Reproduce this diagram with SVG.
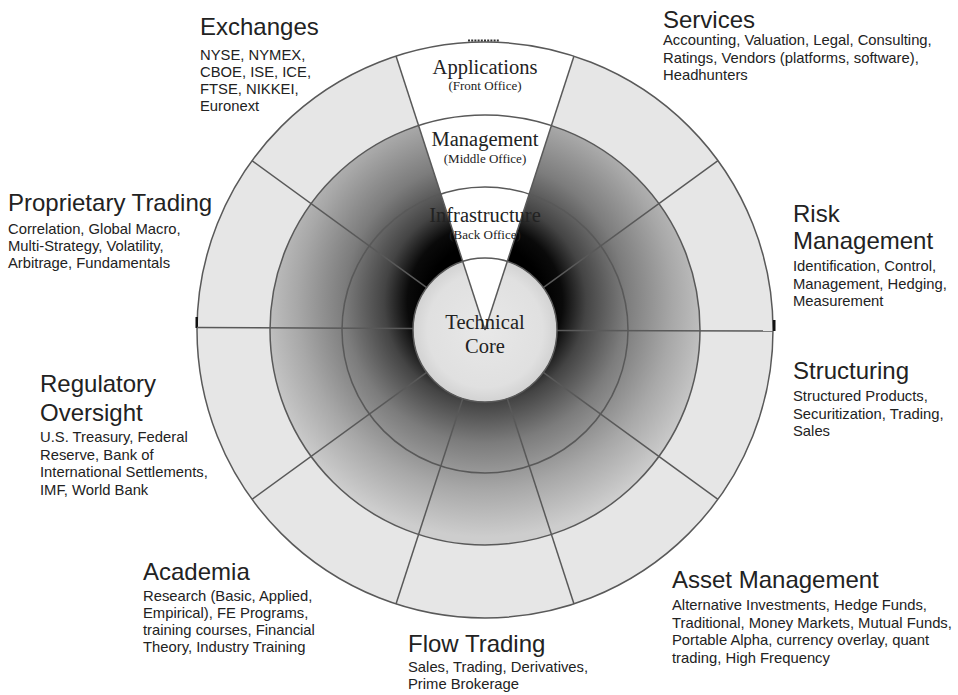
<svg xmlns="http://www.w3.org/2000/svg" width="958" height="695" viewBox="0 0 958 695">
<style>
.t{font-family:"Liberation Sans",Arial,sans-serif;font-size:24px;fill:#222}
.b{font-family:"Liberation Sans",Arial,sans-serif;font-size:14.8px;fill:#222}
.s{font-family:"Liberation Serif","Times New Roman",serif;font-size:20.5px;fill:#222;text-anchor:middle}
.ss{font-family:"Liberation Serif","Times New Roman",serif;font-size:13px;fill:#222;text-anchor:middle}
.ring{fill:none;stroke:#595959;stroke-width:1.5}
.div{stroke:#595959;stroke-width:1.5;fill:none}
</style>
<defs>
<radialGradient id="dark" gradientUnits="userSpaceOnUse" cx="485" cy="302" r="235">
<stop offset="0.25" stop-color="#000"/>
<stop offset="0.33" stop-color="#0a0a0a"/>
<stop offset="0.43" stop-color="#444"/>
<stop offset="0.6" stop-color="#7c7c7c"/>
<stop offset="0.8" stop-color="#a8a8a8"/>
<stop offset="1" stop-color="#cdcdcd"/>
</radialGradient>
<radialGradient id="core" gradientUnits="userSpaceOnUse" cx="485" cy="330" r="72">
<stop offset="0" stop-color="#e8e8e8"/>
<stop offset="0.8" stop-color="#e0e0e0"/>
<stop offset="1" stop-color="#d2d2d2"/>
</radialGradient>
</defs>
<rect width="958" height="695" fill="#fff"/>
<g id="wheel">
<circle cx="485" cy="330" r="288" fill="#e6e6e6"/>
<circle cx="485" cy="330" r="215" fill="url(#dark)"/>
<circle cx="485" cy="330" r="72" fill="url(#core)"/>
<path d="M485,330 L396,56.09 A288,288 0 0 1 574,56.09 Z" fill="#fff"/>
<circle class="ring" cx="485" cy="330" r="72"/>
<circle class="ring" cx="485" cy="330" r="143"/>
<circle class="ring" cx="485" cy="330" r="215"/>
<circle class="ring" cx="485" cy="330" r="288"/>
<line x1="468" y1="40.5" x2="500" y2="40.5" stroke="#333" stroke-width="2" stroke-dasharray="2 1.2"/>
<rect x="195.5" y="317" width="2.5" height="11" fill="#111"/>
<rect x="773" y="320" width="2.5" height="11" fill="#111"/>
</g>
<g id="connectors">
<line class="div" x1="557" y1="330.5" x2="773" y2="331"/>
<line class="div" x1="543.25" y1="287.68" x2="718" y2="160.71"/>
<line class="div" x1="485" y1="330" x2="574" y2="56.09"/>
<line class="div" x1="485" y1="330" x2="396" y2="56.09"/>
<line class="div" x1="426.75" y1="287.68" x2="252" y2="160.71"/>
<line class="div" x1="413" y1="328.5" x2="197" y2="327.5"/>
<line class="div" x1="426.75" y1="372.32" x2="252" y2="499.29"/>
<line class="div" x1="462.75" y1="398.48" x2="396" y2="603.91"/>
<line class="div" x1="507.25" y1="398.48" x2="574" y2="603.91"/>
<line class="div" x1="543.25" y1="372.32" x2="718" y2="499.29"/>
</g>
<g id="applications"><text class="s" x="485" y="74">Applications</text><text class="ss" x="485" y="90">(Front Office)</text></g>
<g id="management"><text class="s" x="485" y="146">Management</text><text class="ss" x="485" y="163">(Middle Office)</text></g>
<g id="infrastructure"><text class="s" x="485" y="222">Infrastructure</text><text class="ss" x="485" y="239">(Back Office)</text></g>
<g id="core-label"><text class="s" x="485" y="329">Technical</text><text class="s" x="485" y="353">Core</text></g>
<g id="exchanges"><text class="t" x="200" y="35">Exchanges</text>
<text class="b" x="200" y="60">NYSE, NYMEX,</text><text class="b" x="200" y="77">CBOE, ISE, ICE,</text><text class="b" x="200" y="94">FTSE, NIKKEI,</text><text class="b" x="200" y="111">Euronext</text></g>
<g id="services"><text class="t" x="663" y="28">Services</text>
<text class="b" x="663" y="45">Accounting, Valuation, Legal, Consulting,</text><text class="b" x="663" y="62.5">Ratings, Vendors (platforms, software),</text><text class="b" x="663" y="80">Headhunters</text></g>
<g id="proprietary-trading"><text class="t" x="8" y="211">Proprietary Trading</text>
<text class="b" x="8" y="234">Correlation, Global Macro,</text><text class="b" x="8" y="251">Multi-Strategy, Volatility,</text><text class="b" x="8" y="268">Arbitrage, Fundamentals</text></g>
<g id="risk-management"><text class="t" x="793" y="222">Risk</text><text class="t" x="793" y="249">Management</text>
<text class="b" x="793" y="271">Identification, Control,</text><text class="b" x="793" y="288.5">Management, Hedging,</text><text class="b" x="793" y="306">Measurement</text></g>
<g id="structuring"><text class="t" x="793" y="379">Structuring</text>
<text class="b" x="793" y="401">Structured Products,</text><text class="b" x="793" y="418.5">Securitization, Trading,</text><text class="b" x="793" y="436">Sales</text></g>
<g id="regulatory-oversight"><text class="t" x="40" y="392">Regulatory</text><text class="t" x="40" y="421">Oversight</text>
<text class="b" x="40" y="442">U.S. Treasury, Federal</text><text class="b" x="40" y="459.5">Reserve, Bank of</text><text class="b" x="40" y="477">International Settlements,</text><text class="b" x="40" y="494.5">IMF, World Bank</text></g>
<g id="academia"><text class="t" x="143" y="580">Academia</text>
<text class="b" x="143" y="601">Research (Basic, Applied,</text><text class="b" x="143" y="618">Empirical), FE Programs,</text><text class="b" x="143" y="635">training courses, Financial</text><text class="b" x="143" y="652">Theory, Industry Training</text></g>
<g id="flow-trading"><text class="t" x="408" y="652">Flow Trading</text>
<text class="b" x="408" y="672">Sales, Trading, Derivatives,</text><text class="b" x="408" y="689">Prime Brokerage</text></g>
<g id="asset-management"><text class="t" x="672" y="588">Asset Management</text>
<text class="b" x="672" y="610">Alternative Investments, Hedge Funds,</text><text class="b" x="672" y="627.5">Traditional, Money Markets, Mutual Funds,</text><text class="b" x="672" y="645">Portable Alpha, currency overlay, quant</text><text class="b" x="672" y="662.5">trading, High Frequency</text></g>
</svg>
